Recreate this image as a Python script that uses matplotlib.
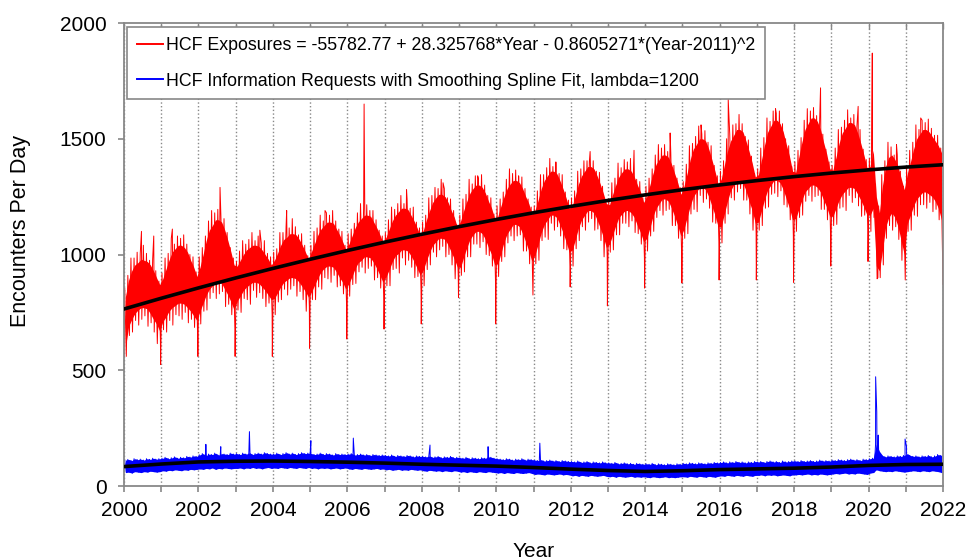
import matplotlib
matplotlib.use('Agg')
import matplotlib.pyplot as plt
from matplotlib.ticker import MultipleLocator

plt.rcParams['font.family'] = ['Liberation Sans', 'DejaVu Sans']

years = list(range(2000, 2022))

# HCF exposures: dense core of the daily band, per month (upper / lower)
red_hi = [
    [820, 890, 930, 955, 965, 980, 975, 970, 955, 930, 900, 870],
    [895, 935, 975, 1010, 1025, 1040, 1040, 1030, 1010, 975, 945, 905],
    [945, 1000, 1060, 1105, 1125, 1150, 1150, 1140, 1105, 1060, 1010, 955],
    [950, 975, 1000, 1020, 1030, 1040, 1040, 1035, 1020, 1000, 980, 955],
    [975, 1005, 1040, 1065, 1075, 1090, 1090, 1085, 1065, 1040, 1010, 980],
    [1015, 1050, 1085, 1110, 1125, 1140, 1140, 1135, 1110, 1085, 1055, 1020],
    [1045, 1080, 1115, 1140, 1155, 1170, 1170, 1165, 1140, 1115, 1085, 1050],
    [1075, 1110, 1145, 1170, 1185, 1200, 1200, 1195, 1170, 1145, 1115, 1080],
    [1105, 1150, 1190, 1225, 1245, 1260, 1260, 1250, 1225, 1190, 1160, 1115],
    [1145, 1190, 1230, 1265, 1285, 1300, 1300, 1290, 1265, 1230, 1200, 1155],
    [1165, 1210, 1250, 1285, 1305, 1320, 1320, 1310, 1285, 1250, 1220, 1175],
    [1190, 1235, 1285, 1320, 1340, 1360, 1360, 1350, 1320, 1285, 1245, 1200],
    [1210, 1255, 1305, 1340, 1360, 1380, 1380, 1370, 1340, 1305, 1265, 1220],
    [1215, 1260, 1300, 1335, 1355, 1370, 1370, 1360, 1335, 1300, 1270, 1225],
    [1250, 1300, 1350, 1390, 1410, 1430, 1430, 1420, 1390, 1350, 1310, 1260],
    [1295, 1350, 1410, 1455, 1475, 1500, 1500, 1490, 1455, 1410, 1360, 1305],
    [1325, 1385, 1445, 1490, 1515, 1540, 1540, 1530, 1490, 1445, 1395, 1335],
    [1345, 1410, 1475, 1530, 1555, 1580, 1580, 1565, 1530, 1475, 1425, 1360],
    [1355, 1420, 1485, 1540, 1565, 1590, 1590, 1575, 1540, 1485, 1435, 1370],
    [1365, 1420, 1480, 1525, 1545, 1570, 1570, 1560, 1525, 1480, 1430, 1375],
    [1380, 1450, 1250, 1180, 1300, 1380, 1420, 1430, 1410, 1380, 1330, 1280],
    [1350, 1400, 1455, 1500, 1520, 1540, 1540, 1530, 1510, 1490, 1470, 1440],
]
red_lo = [
    [600, 690, 720, 745, 760, 770, 770, 765, 745, 720, 700, 670],
    [710, 730, 755, 770, 780, 790, 790, 785, 770, 755, 735, 715],
    [755, 790, 825, 850, 865, 880, 880, 875, 850, 825, 795, 760],
    [800, 820, 845, 860, 870, 880, 880, 875, 860, 845, 825, 805],
    [810, 835, 860, 880, 890, 900, 900, 895, 880, 860, 840, 815],
    [840, 870, 900, 925, 940, 950, 950, 945, 925, 900, 880, 850],
    [875, 905, 940, 965, 975, 990, 990, 985, 965, 940, 910, 880],
    [905, 935, 970, 995, 1005, 1020, 1020, 1015, 995, 970, 940, 910],
    [935, 975, 1010, 1040, 1055, 1070, 1070, 1065, 1040, 1010, 980, 945],
    [945, 990, 1030, 1065, 1085, 1100, 1100, 1090, 1065, 1030, 1000, 955],
    [960, 1005, 1055, 1090, 1110, 1130, 1130, 1120, 1090, 1055, 1015, 970],
    [1000, 1045, 1095, 1130, 1150, 1170, 1170, 1160, 1130, 1095, 1055, 1010],
    [1020, 1065, 1115, 1150, 1170, 1190, 1190, 1180, 1150, 1115, 1075, 1030],
    [1045, 1085, 1125, 1160, 1175, 1190, 1190, 1180, 1160, 1125, 1095, 1055],
    [1070, 1115, 1165, 1200, 1220, 1240, 1240, 1230, 1200, 1165, 1125, 1080],
    [1110, 1160, 1210, 1250, 1270, 1290, 1290, 1280, 1250, 1210, 1170, 1120],
    [1120, 1175, 1230, 1275, 1300, 1320, 1320, 1310, 1275, 1230, 1190, 1135],
    [1140, 1190, 1240, 1280, 1300, 1320, 1320, 1310, 1280, 1240, 1200, 1150],
    [1155, 1195, 1235, 1270, 1285, 1300, 1300, 1290, 1270, 1235, 1205, 1165],
    [1165, 1200, 1235, 1260, 1275, 1290, 1290, 1285, 1260, 1235, 1205, 1170],
    [1170, 1200, 950, 930, 1020, 1120, 1160, 1180, 1160, 1120, 1060, 1000],
    [1135, 1170, 1210, 1240, 1255, 1270, 1270, 1260, 1250, 1230, 1200, 1150],
]
# HCF exposures: monthly highest / lowest days (ragged fringe of the band)
red_max = [
    [855, 910, 985, 985, 1010, 1005, 1040, 1005, 975, 980, 930, 885],
    [920, 985, 1005, 1070, 1045, 1080, 1070, 1085, 1045, 1000, 990, 925],
    [990, 1030, 1080, 1145, 1190, 1180, 1195, 1165, 1155, 1095, 1030, 985],
    [970, 1015, 1060, 1045, 1065, 1095, 1060, 1080, 1050, 1060, 1005, 990],
    [1010, 1025, 1095, 1095, 1120, 1115, 1155, 1120, 1085, 1090, 1040, 995],
    [1040, 1100, 1115, 1170, 1145, 1180, 1170, 1190, 1145, 1110, 1100, 1040],
    [1090, 1110, 1135, 1180, 1220, 1200, 1215, 1190, 1190, 1150, 1105, 1080],
    [1095, 1150, 1205, 1195, 1220, 1255, 1220, 1240, 1200, 1205, 1140, 1115],
    [1140, 1170, 1245, 1255, 1290, 1285, 1325, 1285, 1245, 1240, 1190, 1130],
    [1170, 1240, 1260, 1325, 1305, 1340, 1330, 1345, 1300, 1255, 1245, 1175],
    [1210, 1240, 1270, 1325, 1370, 1350, 1365, 1335, 1335, 1285, 1240, 1205],
    [1210, 1275, 1345, 1345, 1375, 1415, 1380, 1395, 1350, 1345, 1270, 1235],
    [1245, 1275, 1360, 1370, 1405, 1405, 1445, 1405, 1360, 1355, 1295, 1235],
    [1240, 1310, 1330, 1395, 1375, 1410, 1400, 1415, 1370, 1325, 1315, 1245],
    [1295, 1330, 1370, 1430, 1475, 1460, 1475, 1445, 1440, 1385, 1330, 1290],
    [1315, 1390, 1470, 1480, 1510, 1555, 1520, 1535, 1485, 1470, 1385, 1340],
    [1360, 1405, 1500, 1520, 1560, 1565, 1605, 1565, 1510, 1495, 1425, 1350],
    [1370, 1460, 1505, 1590, 1575, 1620, 1610, 1620, 1565, 1500, 1470, 1380],
    [1400, 1450, 1505, 1580, 1630, 1620, 1635, 1600, 1590, 1520, 1455, 1400],
    [1385, 1460, 1540, 1550, 1580, 1625, 1590, 1605, 1555, 1540, 1455, 1410],
    [1415, 1470, 1305, 1210, 1345, 1405, 1485, 1465, 1430, 1430, 1360, 1295],
    [1375, 1450, 1485, 1560, 1540, 1580, 1570, 1585, 1545, 1515, 1515, 1460],
]
red_min = [
    [560, 650, 665, 715, 695, 720, 735, 690, 705, 665, 615, 630],
    [675, 665, 715, 695, 740, 735, 720, 750, 705, 720, 685, 645],
    [700, 755, 760, 810, 835, 810, 830, 840, 775, 785, 740, 675],
    [760, 750, 810, 805, 785, 845, 815, 835, 810, 775, 790, 740],
    [740, 795, 805, 850, 825, 850, 865, 820, 840, 805, 755, 775],
    [805, 805, 860, 850, 900, 895, 880, 910, 860, 865, 830, 780],
    [820, 870, 875, 925, 945, 920, 940, 950, 890, 900, 855, 795],
    [865, 865, 935, 940, 920, 985, 955, 975, 945, 900, 905, 845],
    [865, 935, 955, 1010, 990, 1020, 1035, 990, 1000, 955, 895, 905],
    [910, 925, 990, 990, 1045, 1045, 1030, 1055, 1000, 995, 950, 885],
    [905, 970, 990, 1050, 1080, 1060, 1080, 1085, 1015, 1015, 960, 885],
    [960, 975, 1060, 1075, 1065, 1135, 1105, 1120, 1080, 1025, 1020, 945],
    [950, 1025, 1060, 1120, 1105, 1140, 1155, 1105, 1110, 1060, 990, 990],
    [1010, 1020, 1085, 1085, 1135, 1135, 1120, 1145, 1095, 1090, 1045, 985],
    [1015, 1080, 1100, 1160, 1190, 1170, 1190, 1195, 1125, 1125, 1070, 995],
    [1070, 1090, 1175, 1195, 1185, 1255, 1225, 1240, 1200, 1140, 1135, 1055],
    [1050, 1135, 1175, 1245, 1235, 1270, 1285, 1235, 1235, 1175, 1105, 1095],
    [1105, 1125, 1200, 1205, 1260, 1265, 1250, 1275, 1215, 1205, 1150, 1080],
    [1100, 1160, 1170, 1230, 1255, 1230, 1250, 1255, 1195, 1195, 1150, 1080],
    [1125, 1130, 1200, 1205, 1190, 1255, 1225, 1245, 1210, 1165, 1170, 1105],
    [1100, 1160, 895, 900, 955, 1070, 1125, 1105, 1120, 1065, 975, 960],
    [1100, 1105, 1170, 1165, 1215, 1215, 1200, 1225, 1185, 1195, 1150, 1080],
]
# single-day extremes of the red series
red_spike_t = [2000.0, 2000.47, 2000.8, 2001.3, 2002.58, 2003.65, 2004.37, 2005.4,
               2006.45, 2007.59, 2008.57, 2009.5, 2010.6, 2011.6, 2012.5, 2013.7,
               2014.67, 2015.5, 2016.23, 2017.5, 2018.71, 2019.72, 2020.1, 2020.25,
               2020.75, 2021.4, 2022.0]
red_spike_v = [560, 1100, 1080, 1110, 1290, 1105, 1190, 1190,
               1650, 1280, 1310, 1340, 1340, 1400, 1400, 1450,
               1525, 1560, 1670, 1630, 1720, 1640, 1870, 900,
               1475, 1590, 870]
dip_t = [2000.985, 2001.985, 2002.985, 2003.985, 2004.985, 2005.985, 2006.985,
         2007.985, 2008.985, 2009.985, 2010.985, 2011.985, 2012.985, 2013.985,
         2014.985, 2015.985, 2016.985, 2017.985, 2018.985, 2019.985, 2020.985]
dip_v = [525, 560, 560, 560, 595, 635, 678, 700, 815, 700, 825,
         860, 778, 855, 877, 890, 890, 880, 950, 970, 890]

# HCF information requests: monthly band (upper / lower)
blue_hi = [
    [112, 115, 110, 118, 114, 116, 112, 118, 115, 120, 116, 118],
    [120, 124, 118, 122, 126, 120, 124, 122, 128, 125, 130, 128],
    [135, 140, 132, 138, 136, 142, 134, 140, 138, 136, 142, 138],
    [140, 136, 142, 138, 144, 136, 140, 142, 138, 144, 140, 138],
    [138, 142, 136, 140, 144, 138, 142, 136, 140, 144, 140, 142],
    [140, 136, 138, 142, 136, 140, 138, 134, 140, 136, 138, 136],
    [138, 140, 134, 136, 138, 134, 136, 132, 136, 134, 132, 134],
    [132, 130, 134, 128, 132, 130, 128, 132, 130, 126, 130, 128],
    [128, 126, 130, 124, 126, 128, 122, 126, 124, 128, 122, 124],
    [122, 120, 124, 118, 122, 120, 118, 122, 120, 126, 124, 120],
    [118, 116, 114, 118, 116, 112, 116, 114, 118, 112, 116, 114],
    [112, 110, 114, 108, 110, 112, 108, 110, 106, 110, 108, 106],
    [106, 104, 108, 102, 104, 106, 100, 104, 102, 100, 104, 100],
    [100, 98, 102, 96, 98, 100, 96, 98, 94, 98, 96, 94],
    [96, 94, 98, 92, 96, 94, 92, 96, 94, 92, 96, 94],
    [98, 96, 100, 98, 96, 100, 98, 96, 100, 98, 102, 100],
    [102, 104, 100, 104, 102, 106, 102, 104, 100, 104, 102, 106],
    [104, 106, 102, 106, 108, 104, 106, 102, 108, 104, 106, 108],
    [108, 106, 110, 106, 108, 110, 106, 108, 112, 108, 110, 108],
    [112, 110, 114, 112, 110, 114, 116, 112, 114, 110, 116, 114],
    [118, 120, 180, 150, 132, 126, 130, 128, 126, 130, 128, 132],
    [140, 132, 128, 130, 126, 130, 128, 132, 126, 130, 136, 132],
]
blue_lo = [
    [58, 60, 56, 62, 60, 58, 62, 60, 64, 62, 60, 62],
    [66, 64, 68, 66, 70, 68, 66, 70, 68, 72, 70, 72],
    [74, 72, 76, 74, 78, 72, 76, 74, 78, 76, 74, 76],
    [76, 78, 74, 78, 76, 80, 76, 78, 74, 78, 80, 76],
    [78, 76, 80, 78, 76, 80, 78, 76, 80, 78, 76, 80],
    [76, 78, 74, 78, 76, 78, 74, 76, 78, 74, 76, 78],
    [74, 72, 76, 74, 72, 76, 74, 72, 74, 76, 72, 74],
    [70, 72, 68, 70, 72, 68, 70, 68, 72, 70, 68, 70],
    [66, 64, 68, 66, 64, 66, 62, 66, 64, 62, 66, 64],
    [60, 62, 58, 62, 60, 58, 62, 60, 58, 62, 60, 58],
    [56, 58, 54, 58, 56, 54, 58, 56, 54, 56, 58, 54],
    [50, 52, 50, 48, 52, 50, 48, 50, 52, 48, 50, 48],
    [44, 46, 42, 46, 44, 42, 46, 44, 42, 44, 46, 42],
    [40, 42, 38, 42, 40, 38, 40, 42, 38, 40, 38, 40],
    [38, 36, 40, 38, 36, 38, 40, 36, 38, 36, 38, 40],
    [40, 38, 42, 40, 38, 42, 40, 38, 42, 40, 38, 42],
    [44, 42, 46, 44, 42, 46, 44, 42, 46, 44, 42, 46],
    [46, 48, 44, 48, 46, 48, 44, 46, 48, 46, 44, 48],
    [48, 50, 48, 50, 52, 48, 50, 48, 52, 50, 48, 50],
    [52, 54, 52, 54, 56, 52, 54, 52, 56, 54, 52, 50],
    [56, 58, 70, 66, 64, 62, 64, 62, 66, 64, 62, 60],
    [62, 64, 66, 64, 62, 66, 64, 62, 66, 64, 62, 58],
]
blue_spike_t = [2002.2, 2002.6, 2003.37, 2005.02, 2006.16, 2008.22, 2009.78,
                2011.17, 2020.19, 2020.22, 2020.26, 2020.98, 2021.02]
blue_spike_v = [180, 170, 235, 196, 207, 177, 170, 185, 472, 320, 220, 203, 170]

# fitted curves, value at the start of each year
fit_years = list(range(2000, 2023))
red_fit = [764.6, 811.0, 855.7, 898.7, 939.9, 979.4, 1017.2, 1053.3, 1087.6, 1120.3,
           1151.2, 1180.4, 1207.8, 1233.6, 1257.6, 1279.9, 1300.5, 1319.3, 1336.5,
           1351.9, 1365.6, 1377.6, 1387.8]
blue_fit = [84, 95, 104, 107, 108, 106, 103, 99, 94, 90, 86, 80, 73, 67, 63, 66,
            71, 74, 77, 82, 89, 93, 94]


def build_series(hi, lo, extra_t, extra_v):
    pts = []
    for i, yr in enumerate(years):
        for m in range(12):
            pts.append((yr + (m + 0.25) / 12, hi[i][m]))
            pts.append((yr + (m + 0.75) / 12, lo[i][m]))
    pts += list(zip(extra_t, extra_v))
    pts.sort()
    return [p[0] for p in pts], [p[1] for p in pts]


def band(hi, lo):
    t, h, l = [], [], []
    for i, yr in enumerate(years):
        for m in range(12):
            t.append(yr + (m + 0.5) / 12)
            h.append(hi[i][m])
            l.append(lo[i][m])
    return t, h, l


red_t, red_v = build_series(red_max, red_min, red_spike_t + dip_t, red_spike_v + dip_v)
blue_t, blue_v = build_series(blue_hi, blue_lo, blue_spike_t, blue_spike_v)
red_bt, red_bh, red_bl = band(red_hi, red_lo)
blue_bt, blue_bh, blue_bl = band(blue_hi, blue_lo)

fig = plt.figure(figsize=(9.7, 5.6), dpi=100)
ax = fig.add_axes([0.1278, 0.1321, 0.8444, 0.8268])

ax.fill_between(red_bt, red_bl, red_bh, color='#ff0000', lw=0, zorder=2)
ax.fill_between(blue_bt, blue_bl, blue_bh, color='#0000ff', lw=0, zorder=2)
ax.plot(red_t, red_v, color='#ff0000', lw=0.7, zorder=2,
        label='HCF Exposures = -55782.77 + 28.325768*Year - 0.8605271*(Year-2011)^2')
ax.plot(blue_t, blue_v, color='#0000ff', lw=0.7, zorder=2,
        label='HCF Information Requests with Smoothing Spline Fit, lambda=1200')
ax.plot(fit_years, red_fit, color='black', lw=2.6, zorder=3)
ax.plot(fit_years, blue_fit, color='black', lw=2.6, zorder=3)

ax.set_xlim(2000, 2022)
ax.set_ylim(0, 2000)
ax.xaxis.set_major_locator(MultipleLocator(2))
ax.xaxis.set_minor_locator(MultipleLocator(1))
ax.yaxis.set_major_locator(MultipleLocator(500))
ax.grid(axis='x', which='both', color='#888888', linestyle=':', lw=1.0)
ax.set_axisbelow(True)

for s in ax.spines.values():
    s.set_color('#888888')
    s.set_linewidth(1.3)
ax.tick_params(axis='both', which='both', direction='out', length=4.5,
               width=1.2, color='#888888', labelsize=15)
ax.tick_params(axis='y', pad=8)
ax.tick_params(axis='x', which='both', pad=6)

top = ax.secondary_xaxis('top')
top.xaxis.set_major_locator(MultipleLocator(1))
top.tick_params(direction='in', length=4, width=1.0, color='#888888', labeltop=False)
top.spines['top'].set_visible(False)

ax.set_xlabel('Year', fontsize=15, labelpad=16)
ax.set_ylabel('Encounters Per Day', fontsize=15.5)
ax.yaxis.set_label_coords(-0.114, 0.55)

leg = ax.legend(loc='upper left', bbox_to_anchor=(0.0037, 0.991), fontsize=12.8,
                handlelength=1.5, handletextpad=0.15, labelspacing=1.05,
                borderpad=0.55, fancybox=False, framealpha=1, borderaxespad=0)
leg.get_frame().set_edgecolor('#888888')
leg.get_frame().set_linewidth(1.2)
for line in leg.get_lines():
    line.set_linewidth(1.4)

plt.savefig('out.png', dpi=100)
